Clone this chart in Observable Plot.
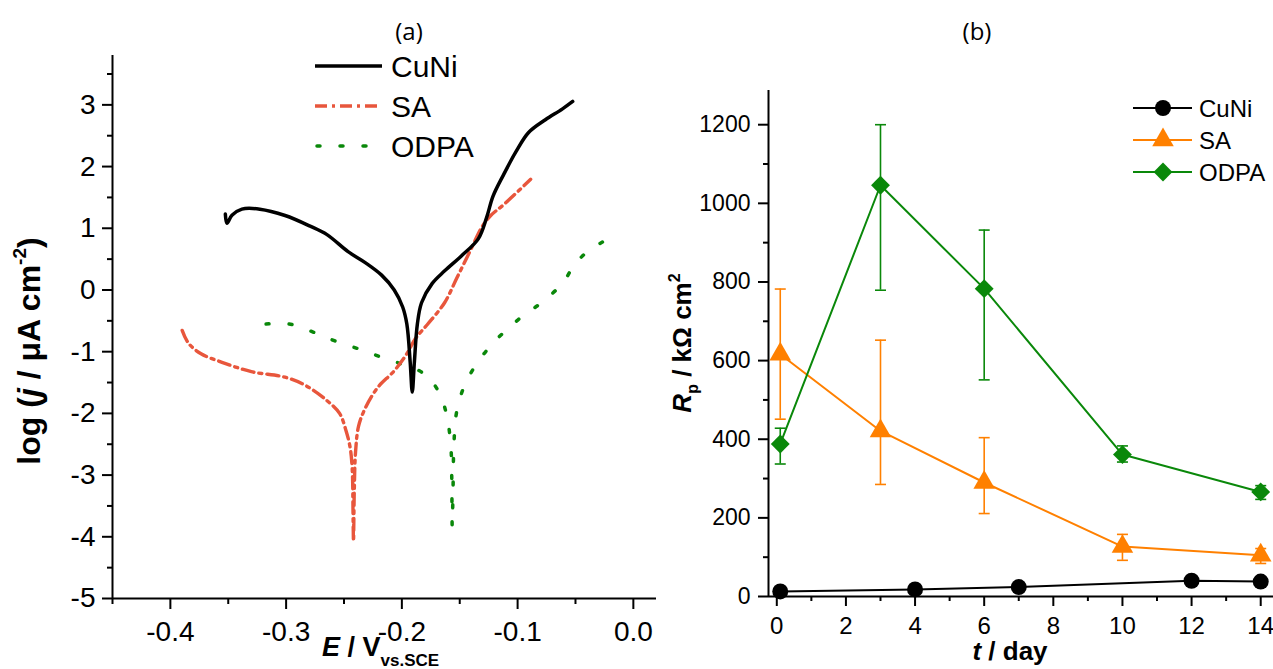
<!DOCTYPE html>
<html><head><meta charset="utf-8">
<script src="https://cdn.jsdelivr.net/npm/d3@7"></script>
<script src="https://cdn.jsdelivr.net/npm/@observablehq/plot@0.6"></script>
<style>
body{margin:0;background:#fff;}
#wrap{position:relative;width:1273px;height:669px;overflow:hidden;background:#fff;}
.panel{position:absolute;top:0;}
#overlay{position:absolute;left:0;top:0;pointer-events:none;}
</style></head><body><div id="wrap"></div>
<script>
// ---------- Panel (a): polarization curves ----------
const cuniE    = [-0.3525,-0.3511,-0.3468,-0.3382,-0.3227,-0.3009,-0.2792,-0.2647,-0.2465,-0.232,-0.2175,-0.2066,-0.1993,-0.1957,-0.1928,-0.191,-0.1892,-0.1866,-0.183,-0.1739,-0.163,-0.1486,-0.134,-0.1268,-0.1213,-0.1123,-0.1014,-0.0905,-0.076,-0.0615,-0.0524];
const cuniLogJ = [1.23,1.08,1.21,1.31,1.31,1.207,1.034,0.897,0.621,0.448,0.241,0.0,-0.276,-0.552,-1.172,-1.655,-1.172,-0.552,-0.207,0.103,0.31,0.552,0.828,1.172,1.517,1.862,2.241,2.552,2.759,2.931,3.055];

const saE    = [-0.3898,-0.3844,-0.3735,-0.3554,-0.33,-0.3009,-0.2828,-0.2647,-0.2538,-0.2483,-0.2447,-0.2429,-0.2422,-0.2418,-0.2411,-0.24,-0.2374,-0.232,-0.2211,-0.2066,-0.1957,-0.1885,-0.1776,-0.1631,-0.1522,-0.1413,-0.1304,-0.1232,-0.1123,-0.0887];
const saLogJ = [-0.655,-0.862,-1.034,-1.172,-1.324,-1.414,-1.552,-1.793,-2.0,-2.276,-2.552,-2.897,-3.586,-4.069,-3.241,-2.621,-2.207,-1.931,-1.586,-1.31,-1.034,-0.793,-0.552,-0.207,0.207,0.621,1.034,1.207,1.379,1.793];

const odpaE    = [-0.3173,-0.2973,-0.2755,-0.2574,-0.2356,-0.2175,-0.1993,-0.1848,-0.1739,-0.1649,-0.1602,-0.1576,-0.1569,-0.1565,-0.1558,-0.1551,-0.1529,-0.1467,-0.1358,-0.1195,-0.0996,-0.0796,-0.0615,-0.0506,-0.0397,-0.0252];
const odpaLogJ = [-0.552,-0.552,-0.69,-0.828,-0.966,-1.09,-1.207,-1.31,-1.483,-1.793,-2.138,-2.552,-3.034,-3.828,-3.241,-2.552,-2.0,-1.586,-1.207,-0.828,-0.483,-0.207,0.103,0.414,0.621,0.793];

const xDomainA = [-0.45, 0.02];
const yDomainA = [-5, 3.8];
const xMajorA = [-0.4,-0.3,-0.2,-0.1,0.0];
const xMinorA = [-0.45,-0.35,-0.25,-0.15,-0.05];
const yMajorA = [-5,-4,-3,-2,-1,0,1,2,3];
const yMinorA = [-4.5,-3.5,-2.5,-1.5,-0.5,0.5,1.5,2.5,3.5];

// ---------- Panel (b): Rp vs time ----------
const cuniDays = [0.1,4,7,12,14];
const cuniRp   = [13,18,24,40,38];
const saDays   = [0.1,3,6,10,14];
const saRp     = [616,421,290,127,105];
const saLow    = [451,285,211,92,84];
const saHigh   = [782,652,404,158,122];
const odpaDays = [0.1,3,6,10,14];
const odpaRp   = [388,1046,783,361,266];
const odpaLow  = [337,779,551,342,247];
const odpaHigh = [428,1200,932,383,282];

const xDomainB = [-0.24, 14.37];
const yDomainB = [0, 1287];
const xMajorB = [0,2,4,6,8,10,12,14];
const xMinorB = [1,3,5,7,9,11,13];
const yMajorB = [0,200,400,600,800,1000,1200];
const yMinorB = [100,300,500,700,900,1100];

const seriesNames = ["CuNi","SA","ODPA"];
const colA = {CuNi:"#000000", SA:"#E8563C", ODPA:"#0A880A"};
const colB = {CuNi:"#000000", SA:"#FF8000", ODPA:"#0A880A"};

const tbl = (xs, ys) => xs.map((x,i)=>({x, y: ys[i]}));
const tblErr = (xs, ys, lo, hi) => xs.map((x,i)=>({x, y: ys[i], lo: lo[i], hi: hi[i]}));

const FONT = "'Liberation Sans', Arial, sans-serif";
const SA_DASH = "12,5,3,5";
const ODPA_DASH = "3,20";

const plotA = Plot.plot({
  width: 660, height: 669,
  marginLeft: 112, marginRight: 4, marginTop: 55, marginBottom: 71,
  x: {domain: xDomainA, label: null},
  y: {domain: yDomainA, label: null},
  style: {fontFamily: FONT, fontSize: "28px", color: "#000", background: "transparent", overflow: "visible"},
  marks: [
    Plot.axisX(xMajorA, {tickSize: 11, tickPadding: 12, strokeWidth: 2, tickFormat: d => d.toFixed(1), label: null, fontSize: 28}),
    Plot.axisX(xMinorA, {tickSize: 6, strokeWidth: 2, tickFormat: () => "", label: null}),
    Plot.axisY(yMajorA, {tickSize: 10, tickPadding: 7, strokeWidth: 2, tickFormat: d => String(d), label: null, fontSize: 28}),
    Plot.axisY(yMinorA, {tickSize: 5, strokeWidth: 2, tickFormat: () => "", label: null}),
    Plot.ruleY([yDomainA[0]], {strokeWidth: 2}),
    Plot.ruleX([xDomainA[0]], {strokeWidth: 2}),
    Plot.line(tbl(odpaE, odpaLogJ), {x: "x", y: "y", stroke: colA.ODPA, strokeWidth: 3.5, strokeDasharray: ODPA_DASH, strokeLinecap: "round", curve: "catmull-rom"}),
    Plot.line(tbl(saE, saLogJ), {x: "x", y: "y", stroke: colA.SA, strokeWidth: 3.4, strokeDasharray: SA_DASH, curve: "catmull-rom"}),
    Plot.line(tbl(cuniE, cuniLogJ), {x: "x", y: "y", stroke: colA.CuNi, strokeWidth: 3.5, curve: "catmull-rom"})
  ]
});

const capSymbol = {draw(context, size) { context.moveTo(-5.5, 0); context.lineTo(5.5, 0); }};

const errMarks = (rows, color) => [
  Plot.ruleX(rows, {x: "x", y1: "lo", y2: "hi", stroke: color, strokeWidth: 1.6}),
  Plot.dot(rows, {x: "x", y: "lo", symbol: capSymbol, stroke: color, fill: "none", strokeWidth: 1.6, r: 3}),
  Plot.dot(rows, {x: "x", y: "hi", symbol: capSymbol, stroke: color, fill: "none", strokeWidth: 1.6, r: 3})
];

const saRows = tblErr(saDays, saRp, saLow, saHigh);
const odpaRows = tblErr(odpaDays, odpaRp, odpaLow, odpaHigh);
const cuniRows = tbl(cuniDays, cuniRp);

const R_CIRCLE = 8, R_TRI = 8, R_DIAM = 8.5;

const plotB = Plot.plot({
  width: 613, height: 669,
  marginLeft: 108, marginRight: 0, marginTop: 90, marginBottom: 73,
  x: {domain: xDomainB, label: null},
  y: {domain: yDomainB, label: null},
  style: {fontFamily: FONT, fontSize: "23px", color: "#000", background: "transparent", overflow: "visible"},
  marks: [
    Plot.axisX(xMajorB, {tickSize: 10, tickPadding: 10, strokeWidth: 2, tickFormat: d => String(d), label: null, fontSize: 24}),
    Plot.axisX(xMinorB, {tickSize: 5, strokeWidth: 2, tickFormat: () => "", label: null}),
    Plot.axisY(yMajorB, {tickSize: 10, tickPadding: 8, strokeWidth: 2, tickFormat: d => String(d), label: null, fontSize: 23}),
    Plot.axisY(yMinorB, {tickSize: 5, strokeWidth: 2, tickFormat: () => "", label: null}),
    Plot.ruleY([yDomainB[0]], {strokeWidth: 2}),
    Plot.ruleX([xDomainB[0]], {strokeWidth: 2}),
    Plot.line(cuniRows, {x: "x", y: "y", stroke: colB.CuNi, strokeWidth: 2}),
    Plot.dot(cuniRows, {x: "x", y: "y", fill: colB.CuNi, r: R_CIRCLE, symbol: "circle"}),
    ...errMarks(saRows, colB.SA),
    Plot.line(saRows, {x: "x", y: "y", stroke: colB.SA, strokeWidth: 2}),
    Plot.dot(saRows, {x: "x", y: "y", fill: colB.SA, r: R_TRI, symbol: "triangle"}),
    ...errMarks(odpaRows, colB.ODPA),
    Plot.line(odpaRows, {x: "x", y: "y", stroke: colB.ODPA, strokeWidth: 2}),
    Plot.dot(odpaRows, {x: "x", y: "y", fill: colB.ODPA, r: R_DIAM, symbol: "diamond2"})
  ]
});

const wrap = document.getElementById("wrap");
const pa = document.createElement("div"); pa.className = "panel"; pa.style.left = "0px"; pa.appendChild(plotA); wrap.appendChild(pa);
const pb = document.createElement("div"); pb.className = "panel"; pb.style.left = "660px"; pb.appendChild(plotB); wrap.appendChild(pb);

// ---------- Overlay: titles, axis labels, legends ----------
const ov = d3.select(wrap).append("svg").attr("id", "overlay").attr("width", 1273).attr("height", 669)
  .style("font-family", FONT);

ov.append("text").attr("x", 409).attr("y", 40).attr("text-anchor", "middle")
  .style("font-family", "'Open Sans', sans-serif").style("font-size", "24px").text("(a)");
ov.append("text").attr("x", 977).attr("y", 40).attr("text-anchor", "middle")
  .style("font-family", "'Open Sans', sans-serif").style("font-size", "24px").text("(b)");

// y label panel a
{
  const t = ov.append("text").attr("transform", "translate(40,351) rotate(-90)").attr("text-anchor", "middle")
    .style("font-size", "32px").style("font-weight", "bold");
  t.append("tspan").text("log (");
  t.append("tspan").style("font-style", "italic").text("j");
  t.append("tspan").text(" / \u03BCA cm");
  t.append("tspan").attr("dy", -14).style("font-size", "19px").text("-2");
  t.append("tspan").attr("dy", 14).text(")");
}
// x label panel a
{
  const t = ov.append("text").attr("x", 322).attr("y", 656).style("font-size", "27px").style("font-weight", "bold");
  t.append("tspan").style("font-style", "italic").text("E");
  t.append("tspan").text(" / V");
  t.append("tspan").attr("dy", 10).style("font-size", "17px").text("vs.SCE");
}
// x label panel b
{
  const t = ov.append("text").attr("x", 1010).attr("y", 660).attr("text-anchor", "middle")
    .style("font-size", "26px").style("font-weight", "bold");
  t.append("tspan").style("font-style", "italic").text("t");
  t.append("tspan").text(" / day");
}
// y label panel b
{
  const t = ov.append("text").attr("transform", "translate(691,343) rotate(-90)").attr("text-anchor", "middle")
    .style("font-size", "26px").style("font-weight", "bold");
  t.append("tspan").style("font-style", "italic").text("R");
  t.append("tspan").attr("dy", 7).style("font-size", "16px").text("p");
  t.append("tspan").attr("dy", -7).text(" / k\u03A9 cm");
  t.append("tspan").attr("dy", -11).style("font-size", "16px").text("2");
}

// legend panel a
{
  const rowsY = [66, 106, 146];
  const styles = {
    CuNi: {w: 3.5, dash: null, cap: "butt", x1: 315},
    SA: {w: 3.4, dash: SA_DASH, cap: "butt", x1: 315},
    ODPA: {w: 3.5, dash: ODPA_DASH, cap: "round", x1: 317}
  };
  seriesNames.forEach((name, i) => {
    const s = styles[name];
    const l = ov.append("line").attr("x1", s.x1).attr("x2", 382).attr("y1", rowsY[i]).attr("y2", rowsY[i])
      .attr("stroke", colA[name]).attr("stroke-width", s.w).attr("stroke-linecap", s.cap);
    if (s.dash) l.attr("stroke-dasharray", s.dash);
    ov.append("text").attr("x", 391).attr("y", rowsY[i] + 11).style("font-size", "30px").text(name);
  });
}
// legend panel b
{
  const rowsY = [108, 140, 172];
  const syms = {CuNi: [d3.symbolCircle, R_CIRCLE], SA: [d3.symbolTriangle, R_TRI], ODPA: [d3.symbolDiamond2, R_DIAM]};
  seriesNames.forEach((name, i) => {
    ov.append("line").attr("x1", 1133).attr("x2", 1192).attr("y1", rowsY[i]).attr("y2", rowsY[i])
      .attr("stroke", colB[name]).attr("stroke-width", 2);
    const [sym, r] = syms[name];
    ov.append("path").attr("d", d3.symbol(sym, Math.PI * r * r)()).attr("transform", `translate(1163,${rowsY[i]})`)
      .attr("fill", colB[name]);
    ov.append("text").attr("x", 1199).attr("y", rowsY[i] + 8.5).style("font-size", "24px").text(name);
  });
}
</script></body></html>
